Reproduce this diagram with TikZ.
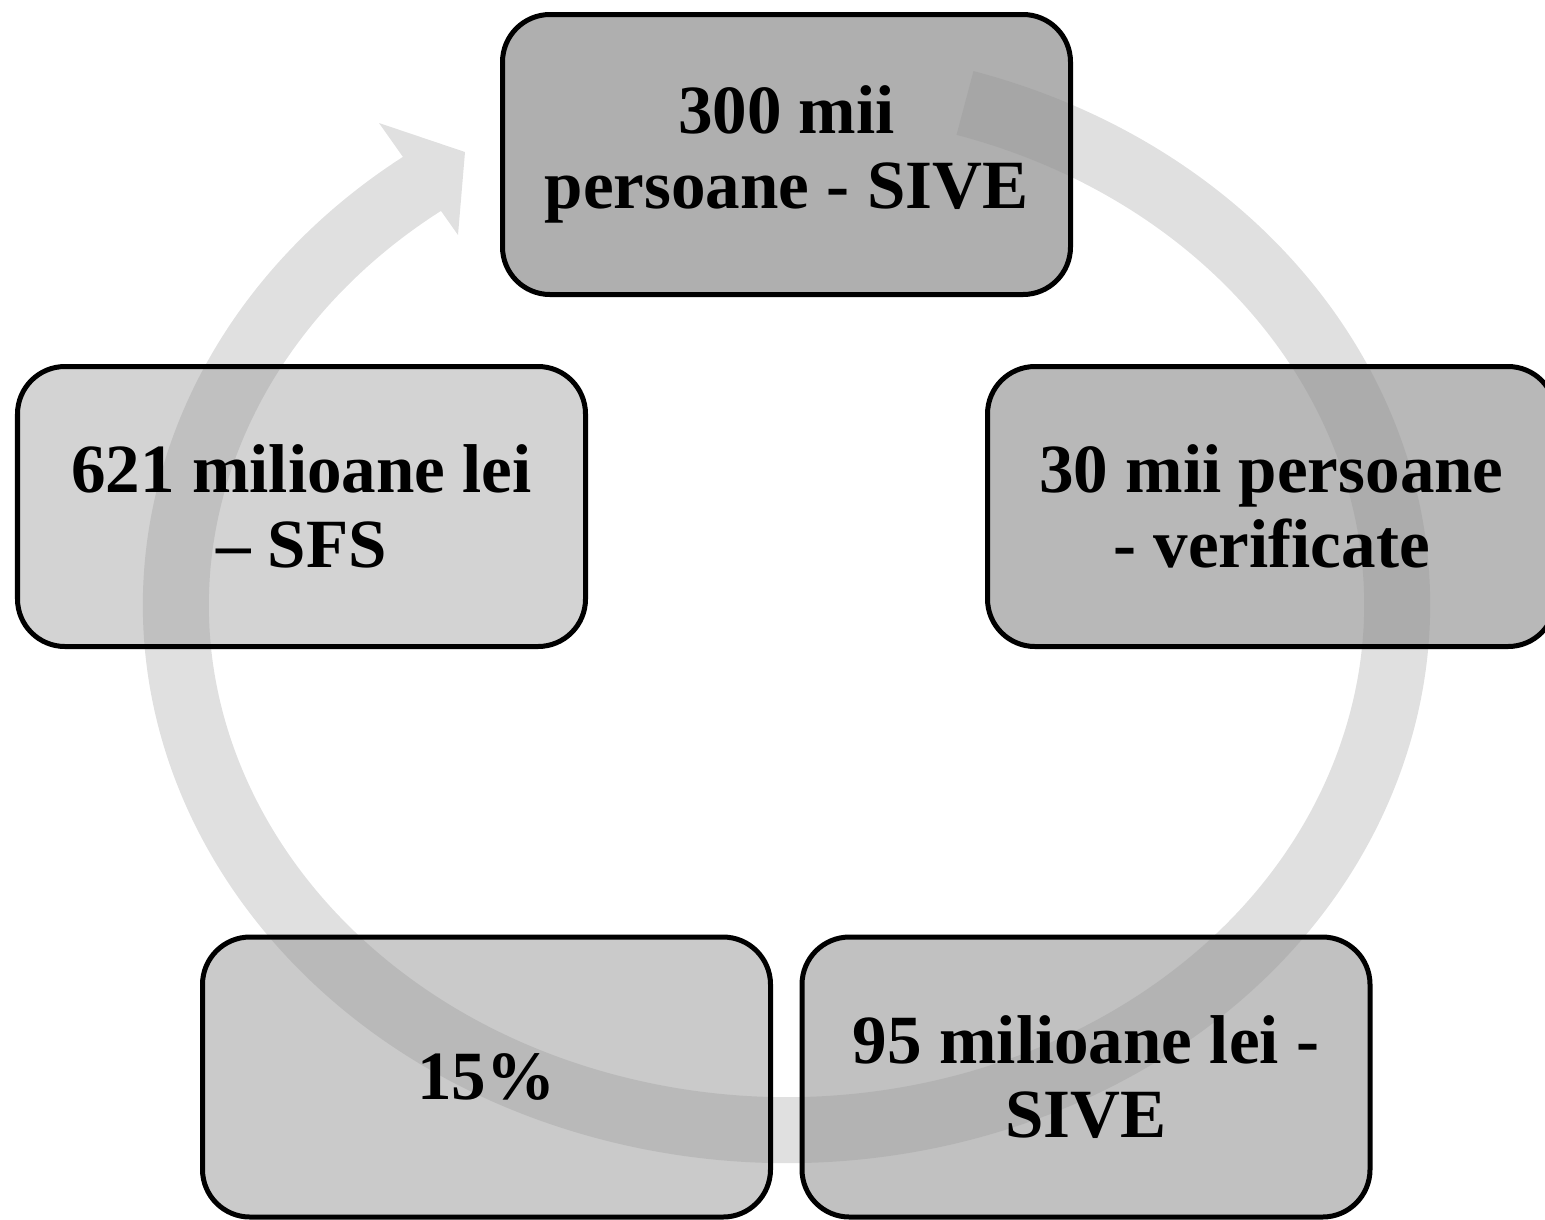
\documentclass[tikz,border=0pt]{standalone}
\usepackage{fontspec}
\setmainfont{Liberation Serif}
\usepackage{xcolor}
\definecolor{ringgray}{HTML}{E0E0E0}
\definecolor{boxgray}{HTML}{909090}
\usepackage{tikz}
\usetikzlibrary{shapes,arrows.meta,positioning,calc}

\begin{document}
\begin{tikzpicture}[
    cyclebox/.style={rectangle, rounded corners=0.95cm, draw=black, fill=boxgray, text=black, text opacity=1, minimum width=11.36cm, minimum height=5.6cm, align=center, font=\fontsize{39.3}{42.5}\selectfont\bfseries, line width=0.1cm},
  ]
    \useasboundingbox (0,0) rectangle (30.9,-24.38);

    \coordinate (ctr) at (15.73,-12.1);
    \draw[ringgray, line width=1.32cm] ($(ctr)+(73:12.21cm and 10.5cm)$) arc[start angle=73, end angle=-234, x radius=12.21cm, y radius=10.5cm];
    \fill[ringgray] (7.58,-2.46) -- (9.30,-3.04) -- (9.16,-4.70) -- cycle;

    \node[cyclebox, fill opacity=0.72] (p1) at (15.73,-3.09) {300 mii\\persoane - SIVE};
    \node[cyclebox, fill opacity=0.64] (p2) at (25.43,-10.13) {30 mii persoane\\- verificate};
    \node[cyclebox, fill opacity=0.56] (p3) at (21.72,-21.54) {95 milioane lei -\\SIVE};
    \node[cyclebox, fill opacity=0.48] (p4) at (9.73,-21.54) {15\%};
    \node[cyclebox, fill opacity=0.40] (p5) at (6.03,-10.13) {621 milioane lei\\– SFS};
  \end{tikzpicture}
\end{document}
